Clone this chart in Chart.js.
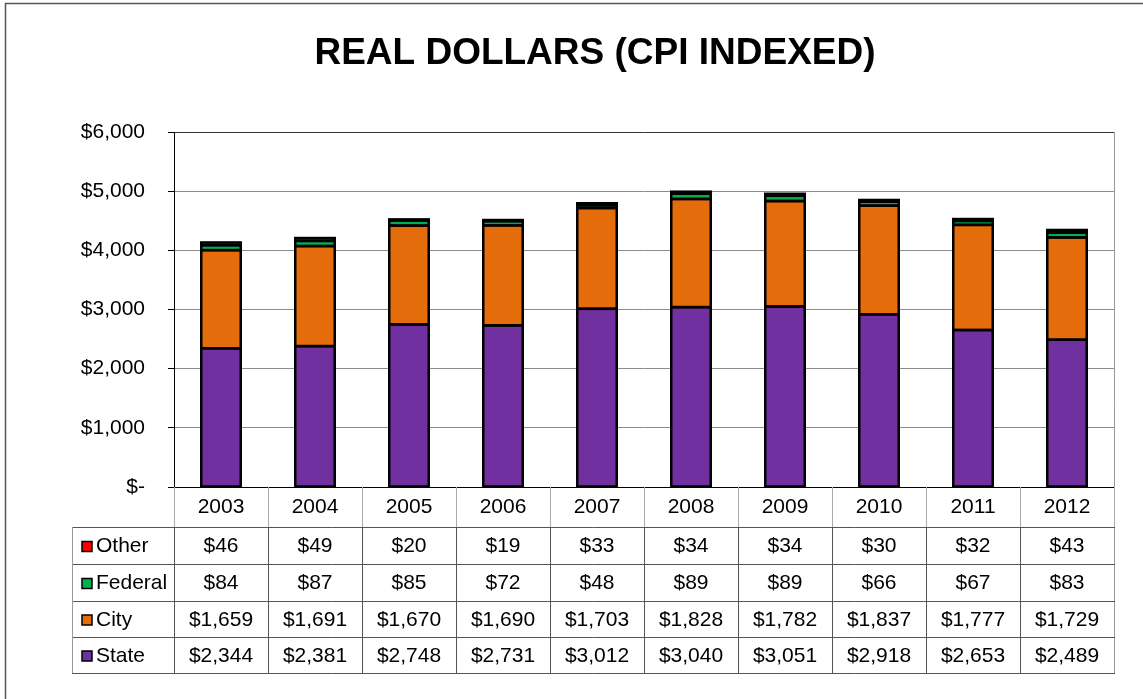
<!DOCTYPE html>
<html>
<head>
<meta charset="utf-8">
<title>Real Dollars (CPI Indexed)</title>
<script src="https://cdn.jsdelivr.net/npm/chart.js@4/dist/chart.umd.min.js"></script>
<style>
    html, body { margin: 0; padding: 0; background: #fff; }
    canvas { display: block; }
</style>
</head>
<body>
<canvas id="realChart" width="1143" height="699"></canvas>
<script>
/* =========================================================
   1. DATA
========================================================= */

const years = ['2003', '2004', '2005', '2006', '2007', '2008', '2009', '2010', '2011', '2012'];

const state   = [2344, 2381, 2748, 2731, 3012, 3040, 3051, 2918, 2653, 2489];
const city    = [1659, 1691, 1670, 1690, 1703, 1828, 1782, 1837, 1777, 1729];
const federal = [84, 87, 85, 72, 48, 89, 89, 66, 67, 83];
const other   = [46, 49, 20, 19, 33, 34, 34, 30, 32, 43];

const yTicks = [0, 1000, 2000, 3000, 4000, 5000, 6000];

const FONT = '"Liberation Sans", Arial, sans-serif';

const colors = {
    state: '#7030A0',
    city: '#E46C0A',
    federal: '#00B050',
    other: '#FF0000'
};

function money(v) {
    return v === 0 ? '$-' : '$' + v.toLocaleString('en-US');
}

/* =========================================================
   2. PLUGINS (bar outlines, table, title)
========================================================= */

// excel style outline: stroke centred on the segment edges
const outlinePlugin = {
    id: 'barOutline',
    afterDatasetsDraw(chart) {
        const ctx = chart.ctx;
        ctx.save();
        ctx.strokeStyle = '#000';
        ctx.lineWidth = 2.5;
        chart.data.datasets.forEach((ds, i) => {
            const meta = chart.getDatasetMeta(i);
            meta.data.forEach(bar => {
                const p = bar.getProps(['x', 'y', 'base', 'width'], true);
                const top = Math.min(p.y, p.base);
                const h = Math.abs(p.base - p.y);
                ctx.strokeRect(p.x - p.width / 2, top, p.width, h);
            });
        });
        ctx.restore();
    }
};

const tableRows = [
    { label: 'Other', color: colors.other, values: other },
    { label: 'Federal', color: colors.federal, values: federal },
    { label: 'City', color: colors.city, values: city },
    { label: 'State', color: colors.state, values: state }
];

const rowLines = [527, 564, 601, 637, 673];
const tableLeft = 72;

const tablePlugin = {
    id: 'dataTable',
    afterDraw(chart) {
        const ctx = chart.ctx;
        const area = chart.chartArea;
        const x = chart.scales.x;
        const colW = (area.right - area.left) / years.length;

        ctx.save();

        // outer frame
        ctx.strokeStyle = '#555';
        ctx.lineWidth = 1.5;
        ctx.beginPath();
        ctx.moveTo(5.5, 699);
        ctx.lineTo(5.5, 3.5);
        ctx.lineTo(1143, 3.5);
        ctx.stroke();

        // title
        ctx.fillStyle = '#000';
        ctx.font = 'bold 37px ' + FONT;
        ctx.textAlign = 'center';
        ctx.textBaseline = 'middle';
        ctx.fillText('REAL DOLLARS (CPI INDEXED)', 595, 54);

        // plot right border
        ctx.lineWidth = 1;
        ctx.strokeStyle = '#999';
        ctx.beginPath();
        ctx.moveTo(area.right + 0.5, area.top);
        ctx.lineTo(area.right + 0.5, rowLines[4]);
        ctx.stroke();

        // year row vertical separators
        ctx.strokeStyle = '#aaa';
        ctx.beginPath();
        for (let i = 0; i <= years.length; i++) {
            const px = Math.round(area.left + i * colW) + 0.5;
            ctx.moveTo(px, area.bottom);
            ctx.lineTo(px, rowLines[0]);
        }
        ctx.stroke();

        // data rows grid
        ctx.strokeStyle = '#555';
        ctx.beginPath();
        rowLines.forEach(y => {
            ctx.moveTo(tableLeft, y + 0.5);
            ctx.lineTo(area.right + 1, y + 0.5);
        });
        for (let i = 0; i < years.length; i++) {
            const px = Math.round(area.left + i * colW) + 0.5;
            ctx.moveTo(px, rowLines[0]);
            ctx.lineTo(px, rowLines[4]);
        }
        ctx.stroke();

        ctx.strokeStyle = '#999';
        ctx.beginPath();
        ctx.moveTo(tableLeft + 0.5, rowLines[0]);
        ctx.lineTo(tableLeft + 0.5, rowLines[4]);
        ctx.stroke();

        // row contents
        ctx.font = '21px ' + FONT;
        ctx.textBaseline = 'middle';
        tableRows.forEach((row, r) => {
            const cy = (rowLines[r] + rowLines[r + 1]) / 2 + 1;

            // legend key
            ctx.fillStyle = row.color;
            ctx.fillRect(82, cy - 5, 10, 10);
            ctx.strokeStyle = '#000';
            ctx.lineWidth = 1.5;
            ctx.strokeRect(82, cy - 5, 10, 10);

            ctx.fillStyle = '#000';
            ctx.textAlign = 'left';
            ctx.fillText(row.label, 96, cy);

            ctx.textAlign = 'center';
            row.values.forEach((v, i) => {
                ctx.fillText(money(v), x.getPixelForValue(i), cy);
            });
        });

        ctx.restore();
    }
};

/* =========================================================
   3. CHART
========================================================= */

function makeSet(label, data, color) {
    return {
        label: label,
        data: data,
        backgroundColor: color,
        borderWidth: 0,
        inflateAmount: 0,
        barPercentage: 0.42,
        categoryPercentage: 1.0
    };
}

const chart = new Chart(document.getElementById('realChart'), {
    type: 'bar',
    data: {
        labels: years,
        datasets: [
            makeSet('State', state, colors.state),
            makeSet('City', city, colors.city),
            makeSet('Federal', federal, colors.federal),
            makeSet('Other', other, colors.other)
        ]
    },
    options: {
        responsive: false,
        animation: false,
        layout: {
            padding: { top: 132, right: 29, left: 0, bottom: 0 }
        },
        plugins: {
            legend: { display: false },
            title: { display: false },
            tooltip: { enabled: false }
        },
        scales: {
            x: {
                stacked: true,
                grid: { display: false, drawTicks: false },
                border: { display: true, color: '#000', width: 1 },
                ticks: {
                    color: '#000',
                    padding: 8,
                    font: { family: FONT, size: 21 }
                },
                afterFit(scale) {
                    scale.height = 212;
                }
            },
            y: {
                stacked: true,
                min: 0,
                max: 6000,
                afterBuildTicks(scale) {
                    scale.ticks = yTicks.map(v => ({ value: v }));
                },
                grid: {
                    color: ctx => (ctx.tick && ctx.tick.value === 6000 ? '#333' : '#8c8c8c'),
                    tickColor: '#000',
                    tickLength: 6,
                    lineWidth: 1
                },
                border: { display: true, color: '#000', width: 1 },
                ticks: {
                    color: '#000',
                    padding: 23,
                    font: { family: FONT, size: 21 },
                    callback: v => money(v)
                },
                afterFit(scale) {
                    scale.width = 174;
                }
            }
        }
    },
    plugins: [outlinePlugin, tablePlugin]
});
</script>
</body>
</html>
